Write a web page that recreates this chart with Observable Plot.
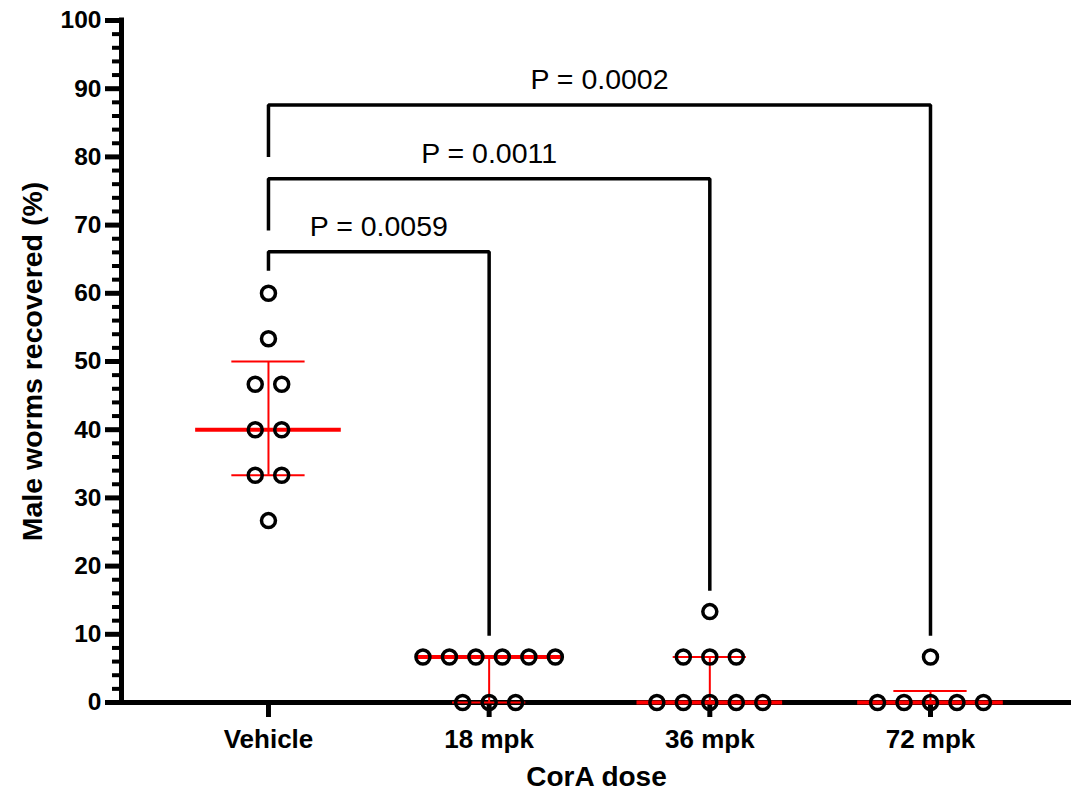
<!DOCTYPE html>
<html><head><meta charset="utf-8">
<script src="https://cdn.jsdelivr.net/npm/d3@7"></script>
<script src="https://cdn.jsdelivr.net/npm/@observablehq/plot@0.6"></script>
<style>body{margin:0;background:#fff}</style>
</head><body><div id="chart"></div>
<script>
const categories = ["Vehicle", "18 mpk", "36 mpk", "72 mpk"];
const vehicle = [60, 53.33, 46.67, 46.67, 40, 40, 33.33, 33.33, 26.67];
const mpk18 = [6.67, 6.67, 6.67, 6.67, 6.67, 6.67, 0, 0, 0];
const mpk36 = [13.33, 6.67, 6.67, 6.67, 0, 0, 0, 0, 0];
const mpk72 = [6.67, 0, 0, 0, 0, 0];
const medians = [40, 6.67, 0, 0];
const q1 = [33.33, 0, 0, 0];
const q3 = [50, 6.67, 6.67, 1.67];
const pLabels = ["P = 0.0059", "P = 0.0011", "P = 0.0002"];
const bracketTarget = [1, 2, 3];
const bracketTop = [66.1, 76.8, 87.6];
const bracketLeftEnd = [63.3, 69.2, 80.0];
const bracketRightEnd = [9.8, 16.4, 9.8];
const yTicks = d3.range(0, 101, 10);
const yMinor = d3.range(0, 101, 2).filter(d => d % 10 !== 0);

const slot = 0.12;
const groups = [vehicle, mpk18, mpk36, mpk72];
const points = [];
groups.forEach((vals, g) => {
  const counts = d3.rollup(vals, v => v.length, d => d);
  const seen = new Map();
  for (const v of vals) {
    const n = counts.get(v);
    const i = seen.get(v) || 0;
    seen.set(v, i + 1);
    points.push({g, v, x: g + (i - (n - 1) / 2) * slot});
  }
});
const stats = categories.map((c, i) => ({g: i, med: medians[i], lo: q1[i], hi: q3[i]}));
const brackets = [];
bracketTarget.forEach((t, k) => {
  brackets.push(
    {k, x: 0, y: bracketLeftEnd[k]},
    {k, x: 0, y: bracketTop[k]},
    {k, x: t, y: bracketTop[k]},
    {k, x: t, y: bracketRightEnd[k]}
  );
});
const labels = bracketTarget.map((t, k) => ({x: t / 2, y: bracketTop[k], text: pLabels[k]}));
const medW = 0.33, qW = 0.166;
const red = "#ff0000";
const xDomain = [-0.666, 3.639];

const chart = Plot.plot({
  width: 1071, height: 793,
  marginLeft: 121, marginRight: 0, marginTop: 20, marginBottom: 91,
  x: {type: "linear", domain: xDomain},
  y: {domain: [0, 100]},
  style: {fontFamily: "'Liberation Sans', Arial, sans-serif", background: "white", color: "black"},
  marks: [
    Plot.ruleY([0], {stroke: "black", strokeWidth: 5, strokeLinecap: "square"}),
    Plot.ruleX([xDomain[0]], {stroke: "black", strokeWidth: 5, strokeLinecap: "square"}),
    Plot.axisY({ticks: yMinor, tickSize: 9, strokeWidth: 4, anchor: "left", tickFormat: () => "", label: null}),
    Plot.axisY({ticks: yTicks, tickSize: 16, tickPadding: 4, strokeWidth: 5, fontSize: 24.5, fontWeight: "bold", anchor: "left", fill: "black", label: null}),
    Plot.axisX({ticks: [0, 1, 2, 3], tickFormat: i => categories[i], tickSize: 15, tickPadding: 12, strokeWidth: 5, fontSize: 26, fontWeight: "bold", anchor: "bottom", fill: "black", label: null}),
    Plot.ruleX(stats, {x: "g", y1: "lo", y2: "hi", stroke: red, strokeWidth: 2}),
    Plot.ruleY(stats, {y: "lo", x1: d => d.g - qW, x2: d => d.g + qW, stroke: red, strokeWidth: 2}),
    Plot.ruleY(stats, {y: "hi", x1: d => d.g - qW, x2: d => d.g + qW, stroke: red, strokeWidth: 2}),
    Plot.ruleY(stats, {y: "med", x1: d => d.g - medW, x2: d => d.g + medW, stroke: red, strokeWidth: 4}),
    Plot.line(brackets, {x: "x", y: "y", z: "k", stroke: "black", strokeWidth: 3.5, strokeLinejoin: "miter", strokeLinecap: "butt"}),
    Plot.text(labels, {x: "x", y: "y", text: "text", fontSize: 28.5, lineAnchor: "bottom", dy: -16, fill: "black"}),
    Plot.dot(points, {x: "x", y: "v", r: 7, stroke: "black", strokeWidth: 3.5, fill: "none"}),
    Plot.text(["CorA dose"], {frameAnchor: "bottom", dy: 75, fontSize: 28, fontWeight: "bold", lineAnchor: "middle", fill: "black"}),
    Plot.text(["Male worms recovered (%)"], {frameAnchor: "left", textAnchor: "middle", rotate: -90, dx: -89, fontSize: 28.5, fontWeight: "bold", lineAnchor: "middle", fill: "black"})
  ]
});
document.getElementById("chart").appendChild(chart);
</script>
</body></html>
